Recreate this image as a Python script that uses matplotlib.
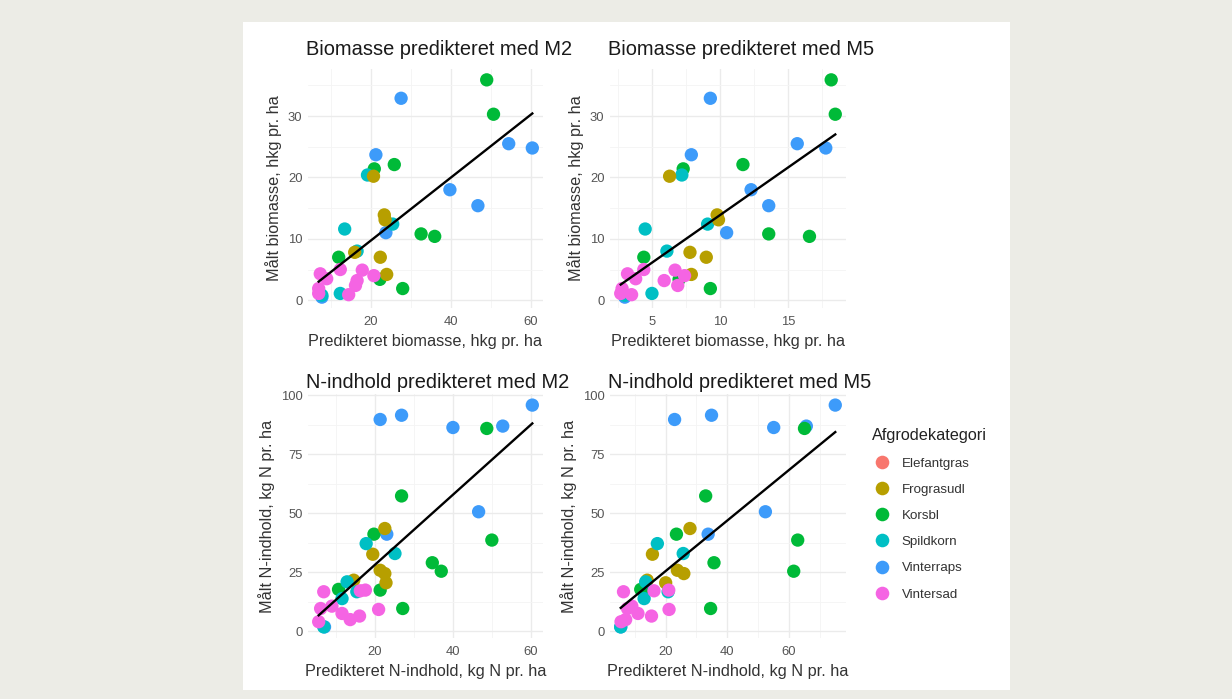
import numpy as np
import matplotlib
matplotlib.use("Agg")
import matplotlib.pyplot as plt
from matplotlib.lines import Line2D

plt.rcParams['font.family'] = ['Liberation Sans', 'DejaVu Sans']

# ---------------- data ----------------
categories = ["Elefantgras", "Frograsudl", "Korsbl", "Spildkorn", "Vinterraps", "Vintersad"]
cat_colors = ["#F8766D", "#B79F00", "#00BA38", "#00BFC4", "#3D9BFA", "#F564E3"]

# Biomass observations
bio_crop = (["Korsbl"] * 9 + ["Vinterraps"] * 8 + ["Spildkorn"] * 6
            + ["Frograsudl"] * 6 + ["Vintersad"] * 10)
bio_meas = [35.9, 30.3, 22.1, 21.4, 10.8, 10.4, 7.0, 1.9, 3.4,
            32.9, 23.7, 25.5, 24.8, 18.0, 15.4, 11.0, 0.5,
            20.4, 11.6, 12.4, 8.0, 1.1, 0.8,
            20.2, 13.9, 13.1, 7.8, 7.0, 4.2,
            4.3, 1.9, 1.1, 3.5, 5.0, 4.9, 3.2, 2.4, 0.9, 4.0]
bio_m2 = [49.0, 50.7, 25.9, 20.9, 32.6, 36.0, 12.0, 28.0, 22.3,
          27.6, 21.3, 54.5, 60.4, 39.8, 46.8, 23.8, 7.8,
          19.2, 13.5, 25.5, 16.6, 12.4, 7.8,
          20.7, 23.4, 23.6, 16.0, 22.4, 24.0,
          7.4, 7.0, 7.0, 9.0, 12.4, 17.9, 16.6, 16.2, 14.5, 20.8]
bio_m5 = [18.2, 18.5, 11.7, 7.3, 13.6, 16.6, 4.4, 9.3, 7.0,
          9.3, 7.9, 15.7, 17.8, 12.3, 13.6, 10.5, 3.0,
          7.2, 4.5, 9.1, 6.1, 5.0, 3.0,
          6.3, 9.8, 9.9, 7.8, 9.0, 7.9,
          3.2, 2.8, 2.7, 3.8, 4.4, 6.7, 5.9, 6.9, 3.5, 7.4]

# N-content observations
n_crop = (["Vinterraps"] * 8 + ["Korsbl"] * 9 + ["Frograsudl"] * 6
          + ["Spildkorn"] * 6 + ["Vintersad"] * 10)
n_meas = [95.8, 89.7, 91.5, 86.3, 86.9, 50.6, 41.1, 1.8,
          85.9, 57.3, 41.1, 38.6, 29.0, 25.4, 17.4, 9.6, 17.7,
          43.5, 32.6, 25.8, 24.4, 20.5, 21.6,
          37.1, 32.9, 20.9, 13.8, 16.7, 1.8,
          16.7, 9.6, 4.0, 10.6, 7.5, 4.9, 6.4, 17.1, 17.4, 9.2]
n_m2 = [60.4, 21.3, 26.8, 40.0, 52.8, 46.6, 23.0, 7.0,
        48.7, 26.8, 19.7, 50.0, 34.7, 37.0, 21.3, 27.1, 10.6,
        22.5, 19.4, 21.3, 22.5, 22.8, 14.5,
        17.7, 25.1, 12.8, 11.5, 15.3, 6.8,
        6.8, 6.0, 5.5, 8.9, 11.5, 13.6, 16.0, 16.2, 17.5, 20.9]
n_m5 = [75.1, 22.9, 34.9, 55.1, 65.7, 52.4, 33.8, 5.4,
        65.1, 33.0, 23.5, 62.9, 35.7, 61.6, 13.0, 34.6, 11.9,
        27.9, 15.7, 23.8, 25.9, 20.0, 14.0,
        17.3, 25.7, 13.5, 13.0, 20.8, 5.4,
        6.3, 7.6, 5.5, 9.0, 11.0, 7.0, 15.4, 16.2, 21.0, 21.1]

titles = ["Biomasse predikteret med M2", "Biomasse predikteret med M5",
          "N-indhold predikteret med M2", "N-indhold predikteret med M5"]
xlabels = ["Predikteret biomasse, hkg pr. ha", "Predikteret biomasse, hkg pr. ha",
           "Predikteret N-indhold, kg N pr. ha", "Predikteret N-indhold, kg N pr. ha"]
ylabels = ["Målt biomasse, hkg pr. ha", "Målt biomasse, hkg pr. ha",
           "Målt N-indhold, kg N pr. ha", "Målt N-indhold, kg N pr. ha"]
legend_title = "Afgrodekategori"

# ---------------- figure ----------------
W, H = 1232, 699
fig = plt.figure(figsize=(W / 100, H / 100), dpi=100)
fig.patch.set_facecolor("#ECECE6")
bg = fig.add_axes([243 / W, 1 - 690 / H, (1010 - 243) / W, (690 - 22) / H], zorder=-5)
bg.set_facecolor("white")
bg.set_xticks([]); bg.set_yticks([])
for s in bg.spines.values():
    s.set_visible(False)

def px_axes(x0, y0, x1, y1):
    return fig.add_axes([x0 / W, 1 - y1 / H, (x1 - x0) / W, (y1 - y0) / H], zorder=1)

axes = [px_axes(308, 69, 543, 308), px_axes(610, 69, 846, 308),
        px_axes(308, 394, 543, 638), px_axes(610, 394, 846, 638)]

panels = [(bio_m2, bio_meas, bio_crop), (bio_m5, bio_meas, bio_crop),
          (n_m2, n_meas, n_crop), (n_m5, n_meas, n_crop)]
xmaj = [[20, 40, 60], [5, 10, 15], [20, 40, 60], [20, 40, 60]]
xmin = [[10, 30, 50], [2.5, 7.5, 12.5, 17.5], [10, 30, 50], [10, 30, 50, 70]]
ymaj = [[0, 10, 20, 30], [0, 10, 20, 30], [0, 25, 50, 75, 100], [0, 25, 50, 75, 100]]
ymin = [[5, 15, 25, 35], [5, 15, 25, 35], [12.5, 37.5, 62.5, 87.5], [12.5, 37.5, 62.5, 87.5]]
title_pads = [10, 10, 4, 4]

color_of = dict(zip(categories, cat_colors))

for i, ax in enumerate(axes):
    xs, ys, crops = panels[i]
    xs = np.array(xs); ys = np.array(ys)
    cols = [color_of[c] for c in crops]
    ax.set_facecolor("white")
    for s in ax.spines.values():
        s.set_visible(False)
    ax.scatter(xs, ys, c=cols, s=92, linewidths=0, zorder=3)
    k, b = np.polyfit(xs, ys, 1)
    xl = np.array([xs.min(), xs.max()])
    ax.plot(xl, k * xl + b, color="black", lw=1.7, zorder=4)
    ax.margins(0.05)
    ax.set_xticks(xmaj[i]); ax.set_xticks(xmin[i], minor=True)
    ax.set_yticks(ymaj[i]); ax.set_yticks(ymin[i], minor=True)
    ax.grid(True, which="major", color="#EBEBEB", lw=1.0, zorder=0)
    ax.grid(True, which="minor", color="#F4F4F4", lw=0.6, zorder=0)
    ax.set_axisbelow(True)
    ax.tick_params(which="both", length=0, pad=4, labelsize=9.4, labelcolor="#555555")
    ax.tick_params(axis="x", which="both", pad=6)
    ax.set_title(titles[i], loc="left", fontsize=14.4, color="#1A1A1A",
                 pad=title_pads[i], x=-0.01)
    ax.set_xlabel(xlabels[i], fontsize=11.7, color="#333333", labelpad=4)
    ax.set_ylabel(ylabels[i], fontsize=11.7, color="#333333", labelpad=4)

handles = [Line2D([], [], marker="o", ls="none", markersize=9.8, markerfacecolor=c,
                  markeredgewidth=0) for c in cat_colors]
leg = fig.legend(handles, categories, title=legend_title, loc="upper left",
                 bbox_to_anchor=(867 / W, 1 - 423 / H), frameon=False,
                 fontsize=9.6, title_fontsize=11.7, labelspacing=1.04,
                 handletextpad=0.8, handlelength=1.4, borderaxespad=0)
leg._legend_box.align = "left"
for t in leg.get_texts():
    t.set_color("#333333")
leg.get_title().set_color("#222222")

fig.savefig("out.png", dpi=100, facecolor=fig.get_facecolor())
